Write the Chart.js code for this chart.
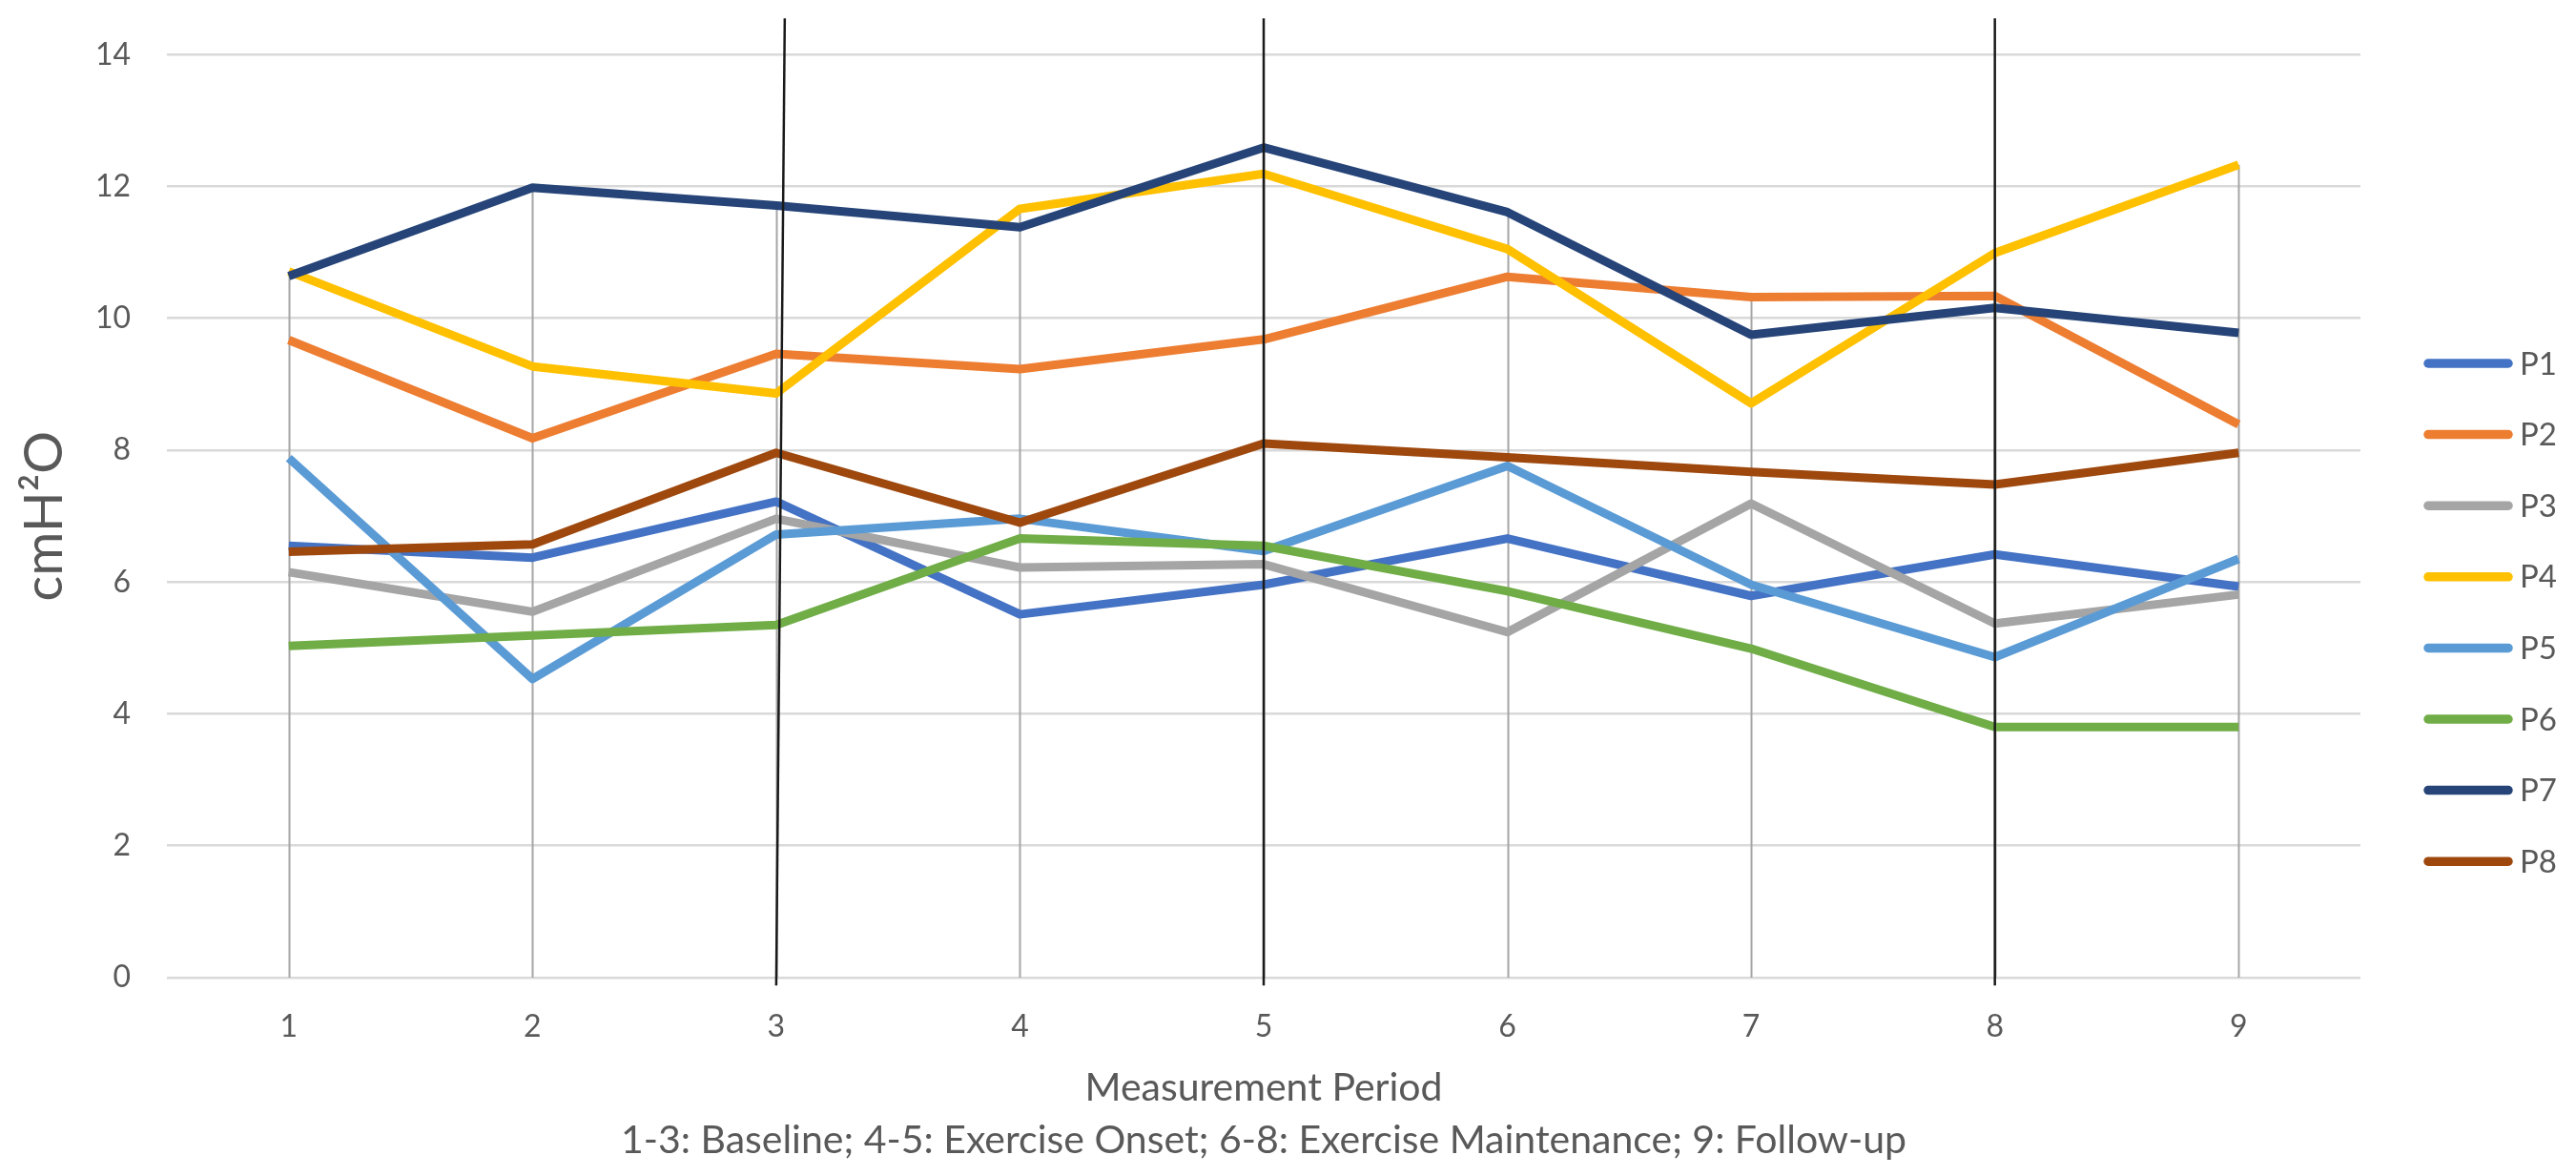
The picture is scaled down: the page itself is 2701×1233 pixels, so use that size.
<!DOCTYPE html>
<html>
<head>
<meta charset="utf-8">
<script src="https://cdn.jsdelivr.net/npm/chart.js"></script>
<style>
  html, body { margin: 0; padding: 0; background: #fff; }
  #wrap { position: relative; width: 2701px; height: 1233px; }
</style>
</head>
<body>
<div id="wrap"><canvas id="chart"></canvas></div>
<script>
const periods = ['1', '2', '3', '4', '5', '6', '7', '8', '9'];
const participants = ['P1', 'P2', 'P3', 'P4', 'P5', 'P6', 'P7', 'P8'];

const p1 = [6.55, 6.37, 7.22, 5.51, 5.96, 6.66, 5.79, 6.42, 5.93];
const p2 = [9.67, 8.18, 9.46, 9.23, 9.68, 10.63, 10.32, 10.34, 8.39];
const p3 = [6.15, 5.55, 6.96, 6.22, 6.27, 5.24, 7.19, 5.37, 5.81];
const p4 = [10.71, 9.27, 8.86, 11.66, 12.19, 11.05, 8.71, 10.99, 12.33];
const p5 = [7.88, 4.53, 6.72, 6.96, 6.47, 7.76, 5.96, 4.86, 6.35];
const p6 = [5.03, 5.19, 5.35, 6.66, 6.55, 5.86, 4.99, 3.80, 3.80];
const p7 = [10.64, 11.98, 11.71, 11.38, 12.59, 11.61, 9.75, 10.16, 9.78];
const p8 = [6.46, 6.57, 7.96, 6.90, 8.10, 7.89, 7.67, 7.48, 7.96];

// Perioden, an denen die Phasen wechseln (schwarze Linien)
const phaseBreaks = ['3', '5', '8'];

const yTicks = [0, 2, 4, 6, 8, 10, 12, 14];

const series = [p1, p2, p3, p4, p5, p6, p7, p8];
const colors = ['#4472C4', '#ED7D31', '#A5A5A5', '#FFC000', '#5B9BD5', '#70AD47', '#264478', '#9E480E'];

const FONT = 'Lato, "Liberation Sans", sans-serif';
const TEXT = '#595959';

const overlay = {
  id: 'overlay',
  beforeDatasetsDraw(chart) {
    // Lotlinien vom höchsten Wert bis zur Achse
    const { ctx, scales: { x, y } } = chart;
    ctx.save();
    ctx.strokeStyle = '#a6a6a6';
    ctx.lineWidth = 2;
    periods.forEach((p, i) => {
      const top = Math.max(...series.map(s => s[i]));
      const px = Math.round(x.getPixelForValue(i)) + 0.5;
      ctx.beginPath();
      ctx.moveTo(px, y.getPixelForValue(top));
      ctx.lineTo(px, y.getPixelForValue(0));
      ctx.stroke();
    });
    ctx.restore();
  },
  afterDatasetsDraw(chart) {
    // Phasengrenzen, leicht über den Plotbereich hinaus
    const { ctx, scales: { x, y } } = chart;
    ctx.save();
    ctx.strokeStyle = '#1a1a1a';
    ctx.lineWidth = 2.5;
    phaseBreaks.forEach((p, k) => {
      const i = periods.indexOf(p);
      const lean = k === 0 ? 0.035 : 0;
      ctx.beginPath();
      ctx.moveTo(x.getPixelForValue(i + lean), y.getPixelForValue(14.55));
      ctx.lineTo(x.getPixelForValue(i), y.getPixelForValue(-0.12));
      ctx.stroke();
    });
    ctx.restore();
  },
  afterDraw(chart) {
    // Legende rechts
    const { ctx, chartArea } = chart;
    const x0 = chartArea.right + 66;
    const y0 = 381;
    const step = 74.6;
    ctx.save();
    chart.data.datasets.forEach((ds, i) => {
      const yy = y0 + i * step;
      ctx.strokeStyle = ds.borderColor;
      ctx.lineWidth = 9.5;
      ctx.lineCap = 'round';
      ctx.beginPath();
      ctx.moveTo(x0 + 5, yy);
      ctx.lineTo(x0 + 89, yy);
      ctx.stroke();
      ctx.fillStyle = TEXT;
      ctx.font = '33px ' + FONT;
      ctx.textAlign = 'left';
      ctx.textBaseline = 'middle';
      ctx.fillText(ds.label, x0 + 101, yy + 1);
    });
    ctx.restore();
  }
};

new Chart(document.getElementById('chart'), {
  type: 'line',
  data: {
    labels: periods,
    datasets: participants.map((name, i) => ({
      label: name,
      data: series[i],
      borderColor: colors[i],
      backgroundColor: colors[i],
      borderWidth: 9,
      borderJoinStyle: 'round',
      borderCapStyle: 'butt',
      pointRadius: 0,
      tension: 0,
      order: participants.length - i
    }))
  },
  options: {
    responsive: true,
    maintainAspectRatio: false,
    animation: false,
    layout: { padding: { top: 57, right: 226, bottom: 0, left: 0 } },
    plugins: {
      legend: { display: false },
      tooltip: { enabled: false }
    },
    scales: {
      x: {
        offset: true,
        grid: { display: false, drawTicks: false },
        border: { display: false },
        ticks: { color: TEXT, font: { family: FONT, size: 32 }, padding: 32 },
        title: {
          display: true,
          text: ['Measurement Period', '1-3: Baseline; 4-5: Exercise Onset; 6-8: Exercise Maintenance; 9: Follow-up'],
          color: TEXT,
          font: { family: FONT, size: 41, lineHeight: 1.34 },
          padding: { top: 0, bottom: 10 }
        },
        afterFit(scale) { scale.height = 208; }
      },
      y: {
        min: 0,
        max: 14,
        afterBuildTicks(scale) { scale.ticks = yTicks.map(v => ({ value: v })); },
        grid: { color: '#d9d9d9', lineWidth: 2.5, drawTicks: false },
        border: { display: false },
        ticks: { color: TEXT, font: { family: FONT, size: 32 }, padding: 38 },
        title: {
          display: true,
          text: 'cmH²O',
          color: TEXT,
          font: { family: FONT, size: 56, lineHeight: 1.2 },
          padding: { top: 13, bottom: 0 }
        },
        afterFit(scale) { scale.width = 175; }
      }
    }
  },
  plugins: [overlay]
});
</script>
</body>
</html>
